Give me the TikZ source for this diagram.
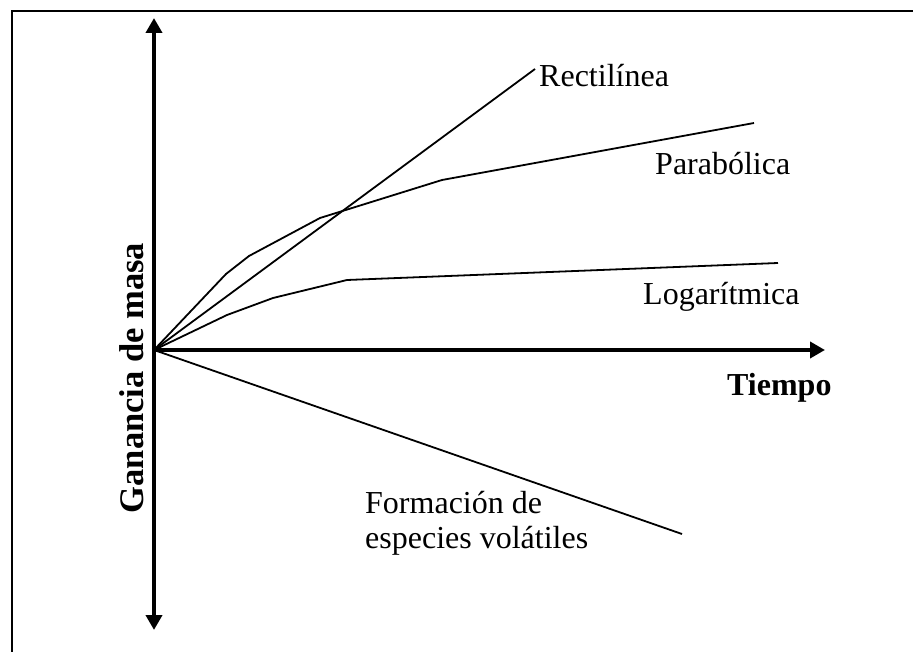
\documentclass[tikz,border=0pt]{standalone}
\usepackage{fontspec}
\setmainfont{Liberation Serif}
\usetikzlibrary{arrows.meta}
\begin{document}
\begin{tikzpicture}[x=1pt,y=-1pt,
  axis/.style={line width=4.5pt,-{Triangle[length=15pt,width=16pt]}},
  curve/.style={line width=1.8pt,line join=miter},
  lbl/.style={inner sep=0pt,anchor=base west,font=\fontsize{32}{35}\selectfont},
  axlbl/.style={inner sep=0pt,anchor=base west,font=\fontsize{32}{35}\selectfont\bfseries}]
  \useasboundingbox (0,0) rectangle (913,652);
  % outer frame (left and top edges)
  \draw[line width=2pt] (12,652) -- (12,11) -- (913,11);

  \coordinate (O) at (154,350);
  \coordinate (ytop) at (154,18);
  \coordinate (ybot) at (154,630);
  \coordinate (xend) at (825,350);

  % growth curves
  \draw[curve] (O) -- (535,69) coordinate (rend);
  \draw[curve] (O) -- (226,274) -- (249,256) -- (320,218) -- (442,180) -- (754,123) coordinate (pend);
  \draw[curve] (O) -- (227,315) -- (273,298) -- (347,280) -- (778,263) coordinate (lend);
  \draw[curve] (O) -- (682,534) coordinate (vend);

  % axes
  \draw[axis] (O) -- (ytop);
  \draw[axis] (O) -- (ybot);
  \draw[axis] (151.75,350) -- (xend);

  % labels
  \node[lbl] (rect) at (539,87) {Rectilínea};
  \node[lbl] (para) at (655,175) {Parabólica};
  \node[lbl] (loga) at (643,305) {Logarítmica};
  \node[lbl,align=left] (vola) at (365,548) {Formación de\\especies volátiles};
  \node[axlbl] (tiempo) at (727,395) {Tiempo};
  \node[inner sep=0pt,anchor=base,rotate=90,font=\fontsize{34.5}{38}\selectfont\bfseries] (gan) at (143,378) {Ganancia de masa};
\end{tikzpicture}
\end{document}
